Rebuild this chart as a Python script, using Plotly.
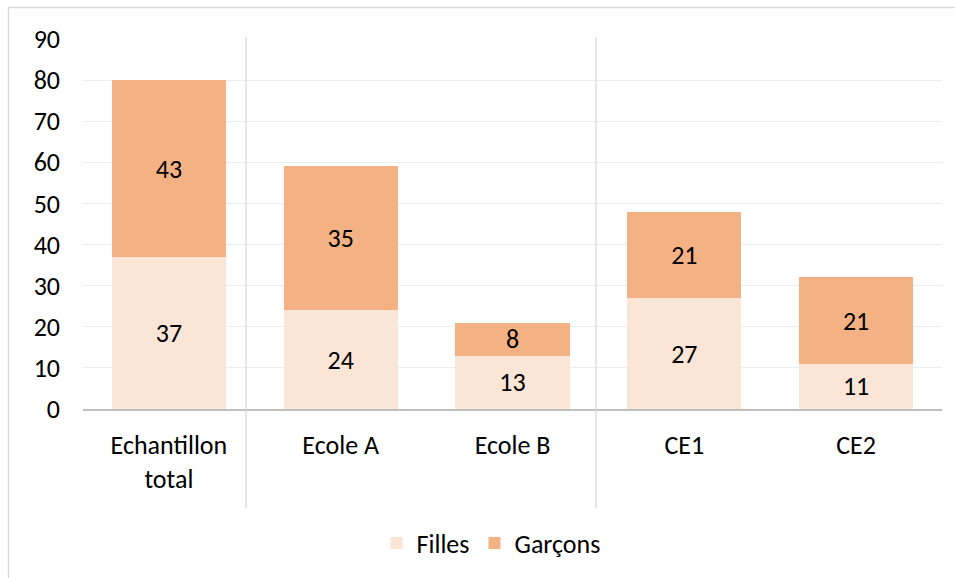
import plotly.graph_objects as go

categories = ["Echantillon<br>total", "Ecole A", "Ecole B", "CE1", "CE2"]
filles = [37, 24, 13, 27, 11]
garcons = [43, 35, 8, 21, 21]
y_ticks = [0, 10, 20, 30, 40, 50, 60, 70, 80, 90]

FONT = "Carlito, Lato, sans-serif"
FS = 26
W, H = 955, 578
L, R, T, B = 83, 13, 39, 169
pw = W - L - R
ph = H - T - B

def px(xpix):
    return (xpix - L) / pw

def py(ypix):
    return (H - B - ypix) / ph

fig = go.Figure()
fig.add_bar(x=categories, y=filles, name="Filles", marker=dict(color="#FBE5D6", line=dict(width=0)),
            text=filles, textposition="inside", insidetextanchor="middle", textangle=0,
            constraintext="none",
            textfont=dict(color="#000000", size=FS, family=FONT))
fig.add_bar(x=categories, y=garcons, name="Garçons", marker=dict(color="#F4B183", line=dict(width=0)),
            text=garcons, textposition="inside", insidetextanchor="middle", textangle=0,
            constraintext="none",
            textfont=dict(color="#000000", size=FS, family=FONT))

shapes = []
# separators
for xs in [246, 596]:
    shapes.append(dict(type="line", xref="paper", yref="paper", x0=px(xs), x1=px(xs),
                       y0=py(508), y1=py(37), line=dict(color="#D9D9D9", width=1.3)))
# chart border (top & left visible)
shapes.append(dict(type="line", xref="paper", yref="paper", x0=px(8), x1=px(960),
                   y0=py(7.5), y1=py(7.5), line=dict(color="#D9D9D9", width=1.5)))
shapes.append(dict(type="line", xref="paper", yref="paper", x0=px(8.5), x1=px(8.5),
                   y0=py(7), y1=py(590), line=dict(color="#D9D9D9", width=1.5)))

fig.update_layout(
    barmode="stack",
    bargap=0.335,
    width=W, height=H,
    margin=dict(l=L, r=R, t=T, b=B),
    plot_bgcolor="white", paper_bgcolor="white",
    font=dict(family=FONT, size=FS, color="#000000"),
    uniformtext=dict(mode=False),
    legend=dict(orientation="h", x=0.475, xanchor="center", y=py(543), yanchor="middle",
                font=dict(size=FS, family=FONT), traceorder="normal", itemwidth=30),
    shapes=shapes,
    yaxis=dict(range=[0, 90], tickvals=y_ticks, showgrid=True, gridcolor="#EDEDED", gridwidth=1.3,
               zeroline=False, showline=False, ticks="", tickfont=dict(size=FS), ticklabelstandoff=22),
    xaxis=dict(showline=True, linecolor="#BFBFBF", linewidth=2, ticks="", tickfont=dict(size=FS),
               showgrid=False, ticklabelstandoff=12),
)
fig.write_html("out.html", config={"displayModeBar": False},
               post_script="document.body.style.margin='0';document.body.style.overflow='hidden';")
